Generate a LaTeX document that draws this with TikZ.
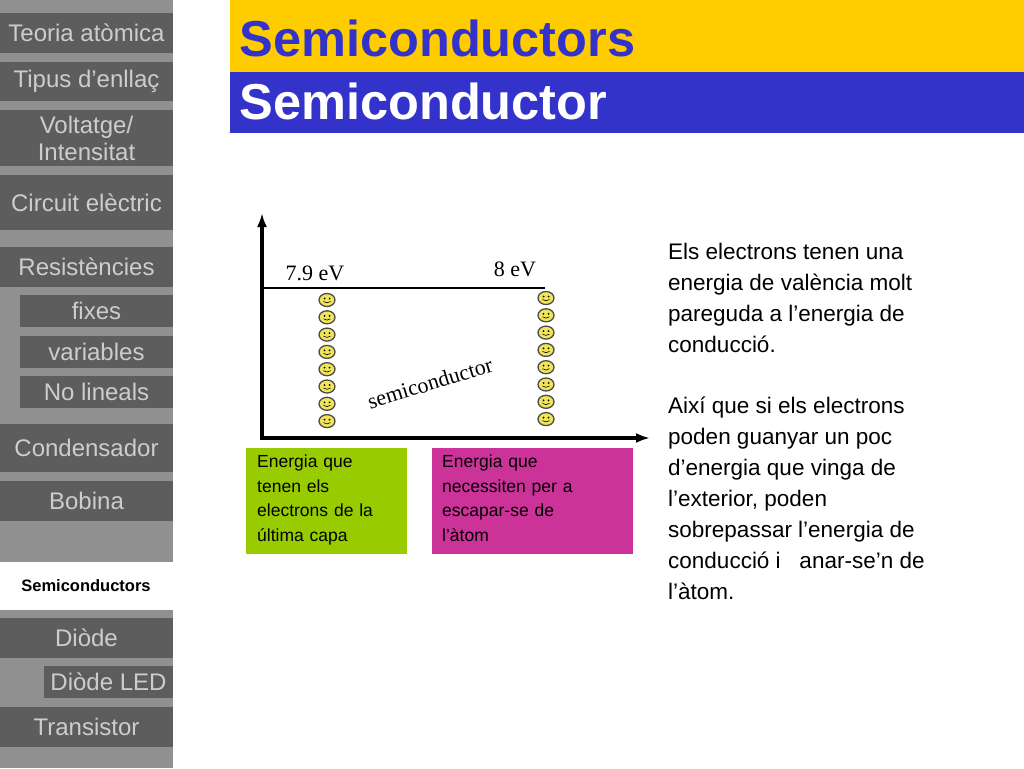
\documentclass[tikz,border=0pt]{standalone}
\usepackage{fontspec}
\usetikzlibrary{arrows.meta}
\defaultfontfeatures{}
\setmainfont{Liberation Sans}
\newfontfamily\serifface{Liberation Serif}
\definecolor{sidegray}{RGB}{145,145,145}
\definecolor{itemgray}{RGB}{93,93,93}
\definecolor{itemtext}{RGB}{205,205,205}
\definecolor{headyellow}{RGB}{255,204,0}
\definecolor{headblue}{RGB}{51,51,204}
\definecolor{boxgreen}{RGB}{153,204,0}
\definecolor{boxpink}{RGB}{204,51,153}
\definecolor{smiley}{RGB}{240,228,90}
\tikzset{
  item/.style={fill=itemgray},
  itemlabel/.style={text=itemtext,font=\fontsize{24}{27}\selectfont,align=center},
  energybox/.style={anchor=north west,inner sep=0pt,align=left,
    font=\fontsize{17.5}{24.5}\selectfont,text width=150pt},
  face/.style={draw=black!70,fill=smiley,line width=1.3pt}
}
\newcommand{\smileyat}[2]{%
  \draw[face] (#1,#2) ellipse (8 and 6.5);
  \fill (#1-2.5,#2-1.5) circle (1) (#1+2.5,#2-1.5) circle (1);
  \draw[line width=0.6pt] (#1-3.5,#2+1.5) to[bend right=40] (#1+3.5,#2+1.5);}
\begin{document}
\begin{tikzpicture}[x=1pt,y=-1pt]
      \useasboundingbox (0,0) rectangle (1024,768);
      \fill[white] (0,0) rectangle (1024,768);
      % Draw sidebar
      \fill[sidegray] (0,0) rectangle (173,768);
      \foreach \xa/\ya/\yb/\name in {0/13/53/Teoria atòmica, 0/62/101/Tipus d’enllaç,
          0/110/166/{Voltatge/\\Intensitat}, 0/175/230/Circuit elèctric, 0/247/287/Resistències,
          20/295/327/fixes, 20/336/368/variables, 20/376/408/No lineals,
          0/424/472/Condensador, 0/481/521/Bobina, 0/618/658/Diòde,
          44/666/698/Diòde LED, 0/707/747/Transistor}{
        \fill[item] (\xa,\ya) rectangle (173,\yb);
        \node[itemlabel] at ({(\xa+173)/2},{(\ya+\yb)/2}) {\name};
      }
      \fill[white] (0,562) rectangle (173,610);
      \node[font=\bfseries\fontsize{16.5}{18}\selectfont] (current) at (86,586) {Semiconductors};
      % Draw header
      \fill[headyellow] (230,0) rectangle (1024,72);
      \fill[headblue] (230,72) rectangle (1024,133);
      \node[anchor=west,font=\bfseries\fontsize{50.5}{52}\selectfont,text=headblue] (title) at (236,38) {Semiconductors};
      \node[anchor=west,font=\bfseries\fontsize{50.5}{52}\selectfont,text=white] (subtitle) at (236,101) {Semiconductor};
      % Draw axes
      \coordinate (origin) at (262,438);
      \coordinate (ytop) at (262,213);
      \coordinate (xend) at (650,438);
      \draw[-{Latex[length=14pt,width=10pt]},line width=4pt] (262,440) -- (ytop);
      \draw[-{Latex[length=14pt,width=10pt]},line width=4pt] (260,438) -- (xend);
      % Draw levels
      \draw[line width=1.2pt] (262,288) -- (545,288);
      \node[font=\serifface\fontsize{22}{24}\selectfont] (low) at (315,273) {7.9 eV};
      \node[font=\serifface\fontsize{22}{24}\selectfont] (high) at (515,269) {8 eV};
      \node[font=\serifface\fontsize{22}{24}\selectfont,rotate=17,inner sep=0pt] (material) at (430,383) {semiconductor};
      % Draw electrons
      \foreach \k in {0,...,7}{
        \smileyat{327}{300+17.3*\k}
        \smileyat{546}{298+17.3*\k}
      }
      % Draw boxes
      \fill[boxgreen] (246,448) rectangle (407,554);
      \fill[boxpink] (432,448) rectangle (633,554);
      \node[energybox] (valence) at (257,455) {Energia que\\tenen els\\electrons de la\\última capa};
      \node[energybox,text width=185pt] (escape) at (442,455) {Energia que\\necessiten per a\\escapar-se de\\l’àtom};
      % Draw explanation
      \node[anchor=north west,inner sep=0pt,align=left,font=\fontsize{22.5}{31}\selectfont] (explain) at (668,243)
        {Els electrons tenen una\\energia de valència molt\\pareguda a l'energia de\\conducció.\\[30pt]
         Així que si els electrons\\poden guanyar un poc\\d'energia que vinga de\\l'exterior, poden\\sobrepassar l'energia de\\conducció i\ \ \ anar-se’n de\\l'àtom.};
    \end{tikzpicture}
\end{document}
